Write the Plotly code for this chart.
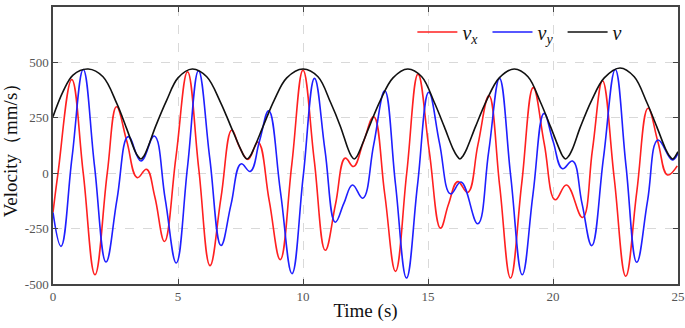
import plotly.graph_objects as go

# ---- data ----
t_vx = [0, 0.2, 0.75, 1.21, 1.68, 2.17, 2.54, 2.95, 3.37, 3.74, 4.07, 4.46, 4.92, 5.38, 5.83,
        6.28, 6.72, 7.15, 7.45, 7.8, 8.2, 8.65, 9.09, 9.55, 10.0, 10.45, 10.89, 11.3, 11.69,
        12.02, 12.42, 12.83, 13.27, 13.7, 14.15, 14.6, 15.05, 15.5, 15.82, 16.19, 16.59, 17.0,
        17.44, 17.87, 18.3, 18.75, 19.21, 19.65, 20.09, 20.54, 21.18, 21.58, 21.98, 22.45,
        22.91, 23.35, 23.8, 24.2, 24.58, 24.97]
vx = [-177, 0, 423, 0, -458, 0, 300, 145, -20, 18, -105, -308, 75, 458, 20,
      -417, -110, 195, 120, 62, 140, -125, -390, 38, 465, 58, -348, -140, 68,
      30, 142, 255, -95, -443, 2, 447, 100, -248, -140, -38, -87, 130,
      350, -60, -473, -45, 386, 133, -120, -53, -200, 108, 417, -24,
      -465, -85, 293, 140, -8, 33]

t_vy = [0, 0.32, 0.76, 1.21, 1.66, 2.12, 2.56, 3.01, 3.52, 4.05, 4.49, 4.93, 5.38, 5.82, 6.27,
        6.72, 7.12, 7.52, 7.89, 8.26, 8.63, 9.1, 9.56, 10.01, 10.46, 10.88, 11.29, 11.63,
        11.98, 12.39, 12.83, 13.27, 13.7, 14.14, 14.58, 15.03, 15.46, 15.9, 16.32, 16.99,
        17.43, 17.86, 18.31, 18.77, 19.2, 19.64, 20.0, 20.38, 20.78, 21.16, 21.55, 22.02,
        22.49, 22.92, 23.35, 23.78, 24.2, 24.77, 25.0]
vy = [-177, -330, 70, 468, 33, -401, -118, 165, 55, 168, -118, -405, 28, 462, 68,
      -326, -142, 42, 8, 145, 282, -85, -453, -12, 428, 103, -221, -137,
      -53, -113, 130, 372, -50, -473, -54, 365, 136, -93, -40, -228,
      100, 428, -15, -458, -94, 270, 145, 20, 55, -136, -327, 70,
      468, 33, -402, -126, 150, 60, 91]

t_v = [0, 0.4, 0.8, 1.41, 2.0, 2.55, 2.95, 3.28, 3.4, 3.52, 3.64, 3.8, 4.1, 4.55, 5.0, 5.57,
       6.15, 6.7, 7.1, 7.5, 7.64, 7.76, 7.88, 8.05, 8.4, 8.85, 9.35, 10.0, 10.6, 11.1, 11.5,
       11.8, 11.93, 12.05, 12.17, 12.3, 12.65, 13.1, 13.6, 14.19, 14.75, 15.25, 15.65, 16.0,
       16.16, 16.28, 16.4, 16.55, 16.9, 17.35, 17.85, 18.45, 19.0, 19.5, 19.9, 20.25, 20.38,
       20.5, 20.62, 20.78, 21.1, 21.55, 22.05, 22.68, 23.25, 23.75, 24.15, 24.5, 24.67,
       24.79, 24.9, 25.0]
v = [255, 368, 443, 470, 435, 315, 200, 100, 76, 64, 78, 118, 210, 330, 430, 470,
     435, 320, 215, 110, 78, 64, 76, 115, 210, 330, 430, 470, 435, 320, 210,
     110, 78, 64, 78, 110, 210, 330, 430, 470, 435, 320, 210, 110,
     78, 64, 78, 110, 210, 330, 430, 470, 435, 320, 210, 110, 78,
     64, 76, 110, 210, 330, 430, 475, 435, 320, 210, 110, 76,
     64, 78, 97]

y_ticks = [-500, -250, 0, 250, 500, 750]
y_tick_text = ["-500", "-250", "0", "250", "500", "750"]
x_ticks = [0, 5, 10, 15, 20, 25]

serif = "Liberation Serif, Times New Roman, serif"

fig = go.Figure()
fig.add_trace(go.Scatter(x=t_vx, y=vx, mode="lines",
                         name="<i>v</i><sub><i>x</i></sub>&nbsp;",
                         line=dict(color="#ff2020", width=1.6, shape="spline", smoothing=1.2)))
fig.add_trace(go.Scatter(x=t_vy, y=vy, mode="lines",
                         name="<i>v</i><sub><i>y</i></sub>&nbsp;",
                         line=dict(color="#1f1fff", width=1.6, shape="spline", smoothing=1.2)))
fig.add_trace(go.Scatter(x=t_v, y=v, mode="lines", name="<i>v</i>",
                         line=dict(color="#111111", width=1.6, shape="spline", smoothing=1.0)))

axis_common = dict(
    showline=True, linecolor="#444444", linewidth=1.5, mirror="ticks",
    ticks="inside", ticklen=5, tickcolor="#444444",
    showgrid=True, gridcolor="#d9d9d9", griddash="dash", gridwidth=1,
    zeroline=False, automargin=False,
    tickfont=dict(family=serif, size=13, color="#555555"),
)

fig.update_layout(
    width=685, height=328,
    margin=dict(l=53, r=7, t=7, b=44),
    paper_bgcolor="white", plot_bgcolor="white",
    showlegend=True,
    legend=dict(orientation="h", x=0.575, y=0.91, xanchor="left", yanchor="middle",
                font=dict(family=serif, size=20, color="#111111"),
                bgcolor="rgba(255,255,255,0)", itemwidth=40),
    xaxis=dict(range=[0, 25], tickvals=x_ticks,
               title=dict(text="Time (s)", font=dict(family=serif, size=19, color="#111111"),
                          standoff=0),
               **axis_common),
    yaxis=dict(range=[-500, 750], tickvals=y_ticks, ticktext=y_tick_text,
               title=dict(text="Velocity（mm/s）", font=dict(family=serif, size=19, color="#111111"),
                          standoff=2),
               **axis_common),
)

fig.write_html("out.html", config={"displayModeBar": False},
               post_script="document.body.style.margin='0';document.body.style.padding='0';")
